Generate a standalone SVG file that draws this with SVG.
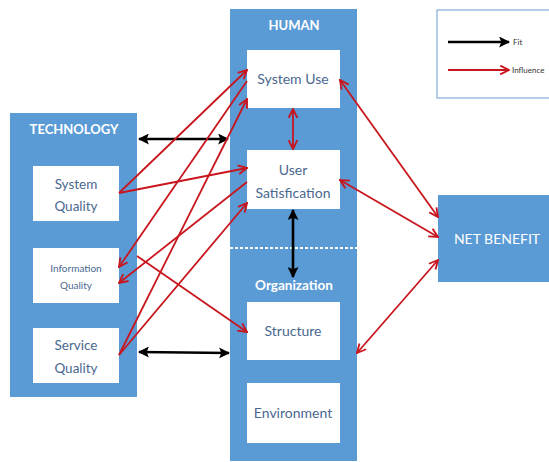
<svg xmlns="http://www.w3.org/2000/svg" width="549" height="462" viewBox="0 0 549 462">
  <style>
    .panel { fill: #5B9BD5; }
    .card { fill: #FFFFFF; }
    .title { font-family: Lato, "Open Sans", sans-serif; font-weight: bold; fill: #FFFFFF; text-anchor: middle; }
    .label { font-family: Lato, "Open Sans", sans-serif; fill: #4A6890; text-anchor: middle; }
    .fit { stroke: #000000; stroke-width: 2.6; fill: none; }
    .infl { stroke: #C8161E; stroke-width: 1.8; fill: none; }
    .legend-text { font-family: Lato, "Open Sans", sans-serif; font-size: 8px; fill: #333333; }
  </style>
  <defs>
    <marker id="headFit" viewBox="0 0 10 10" refX="9" refY="5" markerWidth="11" markerHeight="11" markerUnits="userSpaceOnUse" orient="auto-start-reverse">
      <path d="M0,0 L10,5 L0,10 L2,5 Z" fill="#000000"/>
    </marker>
    <marker id="headInfl" viewBox="0 0 10 10" refX="9" refY="5" markerWidth="11" markerHeight="11" markerUnits="userSpaceOnUse" orient="auto-start-reverse">
      <path d="M1,1 L9,5 L1,9" fill="none" stroke="#C8161E" stroke-width="1.7"/>
    </marker>
  </defs>

  <!-- TECHNOLOGY column -->
  <g id="technology">
    <rect class="panel" x="10" y="113" width="127" height="284"/>
    <text class="title" x="74" y="134" font-size="13">TECHNOLOGY</text>
  </g>
  <g id="system-quality">
    <rect class="card" x="33" y="166" width="86" height="55"/>
    <text class="label" x="76" y="189" font-size="13.5">System</text>
    <text class="label" x="76" y="211" font-size="13.5">Quality</text>
  </g>
  <g id="information-quality">
    <rect class="card" x="33" y="248" width="86" height="55"/>
    <text class="label" x="76" y="272" font-size="10">Information</text>
    <text class="label" x="76" y="289" font-size="10">Quality</text>
  </g>
  <g id="service-quality">
    <rect class="card" x="33" y="328" width="86" height="55"/>
    <text class="label" x="76" y="350" font-size="13.5">Service</text>
    <text class="label" x="76" y="373" font-size="13.5">Quality</text>
  </g>

  <!-- HUMAN / Organization column -->
  <g id="human">
    <rect class="panel" x="230" y="9" width="127" height="452"/>
    <text class="title" x="294" y="30" font-size="13">HUMAN</text>
    <line x1="230" y1="248" x2="357" y2="248" stroke="#FFFFFF" stroke-width="2" stroke-dasharray="3,2"/>
  </g>
  <g id="system-use">
    <rect class="card" x="247" y="50" width="93" height="58"/>
    <text class="label" x="293" y="84" font-size="14">System Use</text>
  </g>
  <g id="user-satisfication">
    <rect class="card" x="247" y="150" width="93" height="59"/>
    <text class="label" x="293" y="175" font-size="14">User</text>
    <text class="label" x="293" y="198" font-size="14">Satisfication</text>
  </g>
  <g id="organization">
    <text class="title" x="294" y="290" font-size="13.5">Organization</text>
  </g>
  <g id="structure">
    <rect class="card" x="247" y="302" width="93" height="58"/>
    <text class="label" x="293" y="336" font-size="14">Structure</text>
  </g>
  <g id="environment">
    <rect class="card" x="247" y="383" width="93" height="60"/>
    <text class="label" x="293" y="418" font-size="14">Environment</text>
  </g>

  <!-- NET BENEFIT -->
  <g id="net-benefit">
    <rect class="panel" x="438" y="195" width="115" height="87"/>
    <text x="497" y="244" font-family="Lato, 'Open Sans', sans-serif" font-size="14" fill="#FFFFFF" text-anchor="middle">NET BENEFIT</text>
  </g>

  <!-- Legend -->
  <g id="legend">
    <rect x="437" y="10" width="120" height="88" fill="#FFFFFF" stroke="#7FAADB" stroke-width="1.2"/>
    <line class="fit" x1="448" y1="42" x2="509" y2="42" marker-end="url(#headFit)"/>
    <text class="legend-text" x="513" y="45">Fit</text>
    <line class="infl" x1="448" y1="70" x2="509" y2="70" marker-end="url(#headInfl)"/>
    <text class="legend-text" x="512" y="73" font-size="9">Influence</text>
  </g>

  <!-- Connectors -->
  <g id="connectors">
    <!-- fit -->
    <line class="fit" x1="139" y1="139" x2="228" y2="139" marker-start="url(#headFit)" marker-end="url(#headFit)"/>
    <line class="fit" x1="139" y1="352" x2="229" y2="353" marker-start="url(#headFit)" marker-end="url(#headFit)"/>
    <line class="fit" x1="293" y1="210" x2="293" y2="277" marker-start="url(#headFit)" marker-end="url(#headFit)"/>

    <!-- influence -->
    <line class="infl" x1="293" y1="109" x2="293" y2="149" marker-start="url(#headInfl)" marker-end="url(#headInfl)"/>
    <line class="infl" x1="119" y1="193" x2="247" y2="70" marker-end="url(#headInfl)"/>
    <line class="infl" x1="119" y1="193" x2="247" y2="168" marker-end="url(#headInfl)"/>
    <line class="infl" x1="247" y1="81" x2="119" y2="267" marker-end="url(#headInfl)"/>
    <line class="infl" x1="247" y1="182" x2="119" y2="283" marker-end="url(#headInfl)"/>
    <line class="infl" x1="119" y1="355" x2="247" y2="99" marker-end="url(#headInfl)"/>
    <line class="infl" x1="119" y1="355" x2="247" y2="203" marker-end="url(#headInfl)"/>
    <line class="infl" x1="137" y1="256" x2="247" y2="332" marker-end="url(#headInfl)"/>
    <line class="infl" x1="340" y1="80" x2="438" y2="217" marker-start="url(#headInfl)" marker-end="url(#headInfl)"/>
    <line class="infl" x1="340" y1="180" x2="438" y2="237" marker-start="url(#headInfl)" marker-end="url(#headInfl)"/>
    <line class="infl" x1="357" y1="353" x2="438" y2="260" marker-start="url(#headInfl)" marker-end="url(#headInfl)"/>
  </g>
</svg>
